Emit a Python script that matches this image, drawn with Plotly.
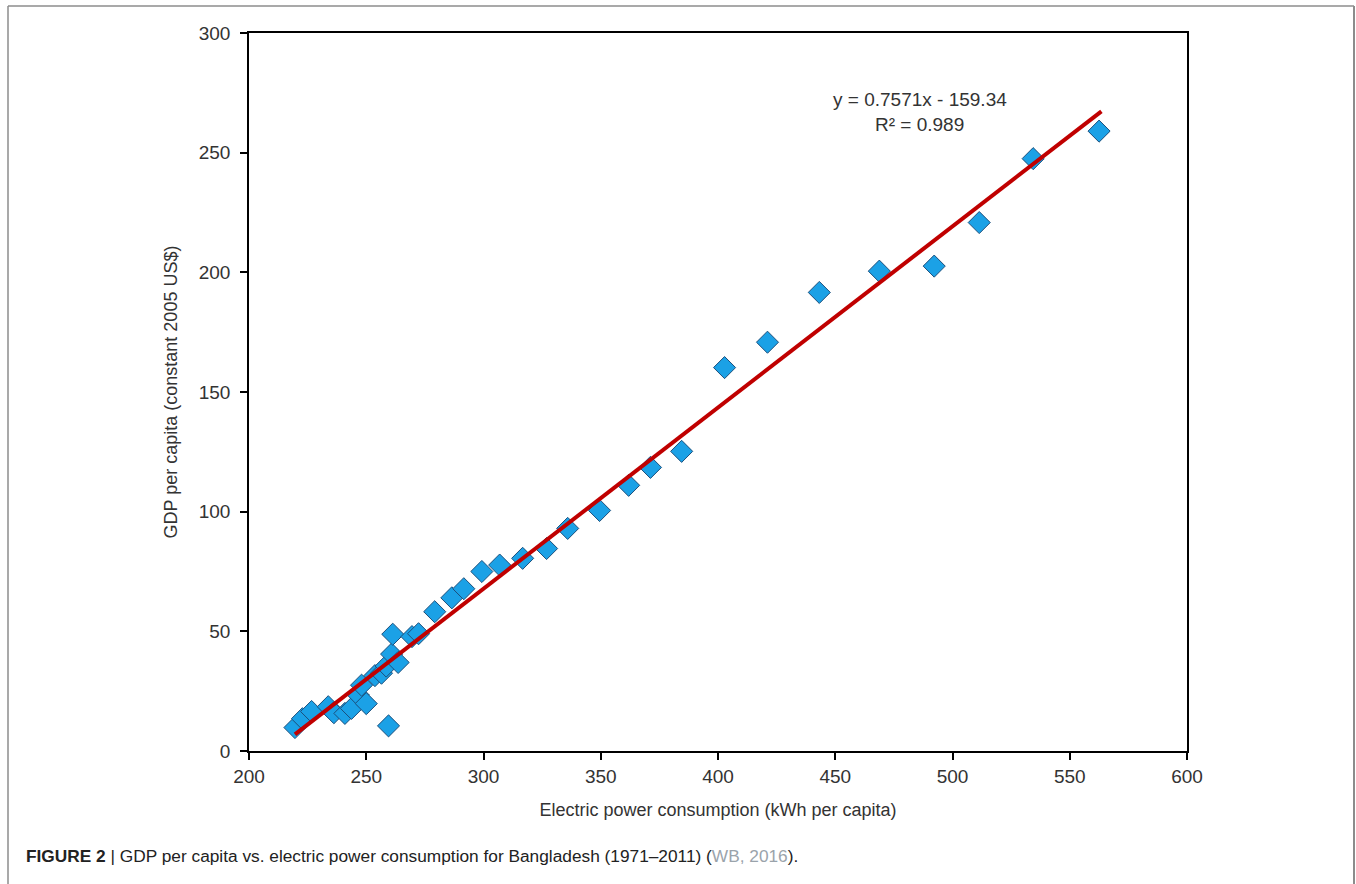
import numpy as np
import plotly.graph_objects as go

# Electric power consumption (kWh per capita) and GDP per capita (constant 2005 US$)
power_kwh = [219.6, 222.8, 226.7, 233.8, 236.2, 240.9, 243.7, 246.6, 248.0, 250.0,
             253.7, 256.5, 258.5, 260.8, 263.6, 261.3, 259.5, 269.5, 272.3, 279.2,
             286.5, 291.6, 299.3, 306.9, 316.7, 326.9, 335.9, 349.5, 361.9, 371.2,
             384.5, 402.8, 421.1, 443.2, 468.8, 492.2, 511.4, 534.4, 562.5]
gdp_pc = [9.8, 13.5, 16.5, 18.5, 16.0, 15.7, 17.8, 23.4, 27.5, 19.8,
          31.5, 32.5, 35.5, 40.5, 37.0, 48.8, 10.5, 47.8, 49.0, 58.2,
          64.0, 67.8, 75.0, 77.7, 80.5, 84.6, 93.0, 100.5, 111.0, 118.5,
          125.2, 160.2, 170.8, 191.6, 200.5, 202.6, 220.8, 247.5, 259.0]

# Linear trend
slope, intercept = 0.7571, -159.34
r_squared = 0.989
x_ticks = [200, 250, 300, 350, 400, 450, 500, 550, 600]
y_ticks = [0, 50, 100, 150, 200, 250, 300]

trend_x = np.array([min(power_kwh), max(power_kwh) + 1.0])
trend_y = slope * trend_x + intercept

W, H = 1356, 884
L, R, T, B = 249, 1187, 33, 751
FONT = "Liberation Sans, Arial"

fig = go.Figure()
fig.add_trace(go.Scatter(
    x=power_kwh, y=gdp_pc, mode="markers",
    marker=dict(symbol="diamond", size=17, color="#1ba1e6",
                line=dict(color="#1c4f7c", width=1)),
    showlegend=False, hoverinfo="x+y"))
fig.add_trace(go.Scatter(
    x=trend_x, y=trend_y, mode="lines",
    line=dict(color="#c00000", width=4), showlegend=False, hoverinfo="skip"))

axis_common = dict(showline=True, linecolor="#000", linewidth=1.5, mirror=True,
                   ticks="outside", ticklen=7, tickcolor="#000", tickwidth=1.5,
                   showgrid=False, zeroline=False,
                   tickfont=dict(family=FONT, size=19, color="#333"),
                   title_font=dict(family=FONT, size=18, color="#333"))

fig.update_xaxes(range=[200, 600], tickvals=x_ticks,
                 title_text="Electric power consumption (kWh per capita)",
                 title_standoff=18, **axis_common)
fig.update_yaxes(range=[0, 300], tickvals=y_ticks, ticklabelstandoff=6,
                 title_text="GDP per capita (constant 2005 US$)",
                 title_standoff=16, **axis_common)


def px_x(p):
    return (p - L) / (R - L)


def px_y(p):
    return (B - p) / (B - T)


fig.add_annotation(x=px_x(920), y=px_y(99), xref="paper", yref="paper",
                   xanchor="center", yanchor="middle",
                   text=f"y = {slope}x - {abs(intercept)}", showarrow=False,
                   font=dict(family=FONT, size=19, color="#333"))
fig.add_annotation(x=px_x(919), y=px_y(125), xref="paper", yref="paper",
                   xanchor="center", yanchor="middle",
                   text=f"R² = {r_squared}", showarrow=False,
                   font=dict(family=FONT, size=19, color="#333"))

# Caption
fig.add_annotation(x=px_x(24), y=px_y(856), xref="paper", yref="paper",
                   xanchor="left", yanchor="middle", showarrow=False,
                   text="<b>FIGURE 2</b> | GDP per capita vs. electric power consumption for "
                        "Bangladesh (1971–2011) (<span style='color:#9aa3ab'>WB, 2016</span>).",
                   font=dict(family=FONT, size=17.3, color="#222"))

# Frame around the figure
frame = dict(color="#8c8c8c", width=1.5)
fig.add_shape(type="line", xref="paper", yref="paper",
              x0=px_x(8), y0=px_y(900), x1=px_x(8), y1=px_y(6), line=frame)
fig.add_shape(type="line", xref="paper", yref="paper",
              x0=px_x(8), y0=px_y(6), x1=px_x(1354), y1=px_y(6), line=frame)
fig.add_shape(type="line", xref="paper", yref="paper",
              x0=px_x(1354), y0=px_y(6), x1=px_x(1354), y1=px_y(900),
              line=dict(color="#8c8c8c", width=2))

fig.update_layout(width=W, height=H, plot_bgcolor="white", paper_bgcolor="white",
                  margin=dict(l=L, r=W - R, t=T, b=H - B, autoexpand=False))

fig.write_html("out.html")
